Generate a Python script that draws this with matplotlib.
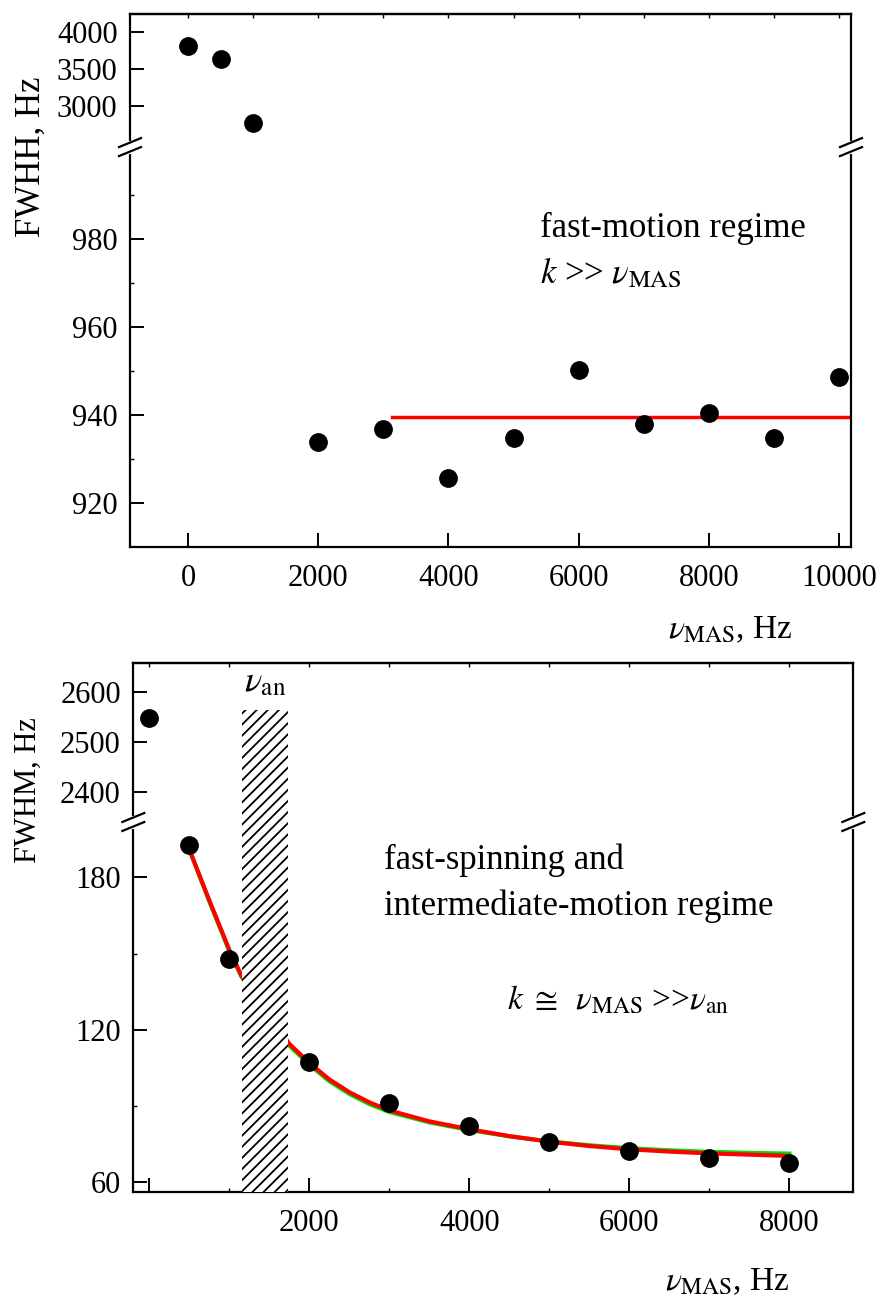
import numpy as np
import matplotlib.pyplot as plt
from matplotlib.ticker import FixedLocator

plt.rcParams['font.family'] = 'Liberation Serif'
plt.rcParams['mathtext.fontset'] = 'stix'
plt.rcParams['hatch.linewidth'] = 1.3

FIG_W, FIG_H = 882, 1308

# upper panel: FWHH vs spinning rate
mas_top = [0, 500, 1000, 2000, 3000, 4000, 5000, 6000, 7000, 8000, 9000, 10000]
fwhh_top = [3814, 3638, 2765, 933.8, 936.9, 925.7, 934.8, 950.1, 938.0, 940.5, 934.8, 948.5]
fit_top_x = [3130, 10180]
fit_top_y = [939.5, 939.5]

# lower panel: FWHM vs spinning rate
mas_bot = [0, 500, 1000, 2000, 3000, 4000, 5000, 6000, 7000, 8000]
fwhm_bot = [2548, 192.7, 147.7, 107.5, 91.4, 82.0, 75.9, 72.2, 69.6, 67.6]
fit_bot_x = [500, 750, 1000, 1150, 1750, 2000, 2250, 2500, 2750, 3000, 3500,
             4000, 4500, 5000, 5500, 6000, 6500, 7000, 7500, 8000]
fit_red_y = [191, 171, 151.5, 141.5, 114.5, 107, 100.5, 95.5, 91.5, 88.3, 84,
             80.9, 78.2, 76.0, 74.3, 73.0, 72.1, 71.4, 70.9, 70.4]
fit_green_y = [191, 170.5, 151, 141, 113.8, 106.3, 99.8, 94.8, 90.8, 87.7, 83.6,
               80.6, 78.1, 76.1, 74.6, 73.4, 72.6, 72.0, 71.6, 71.3]
an_band = [1162, 1730]
an_top = 2565


def broken_scale(lo, hi, frac):
    xp = [lo[0], lo[1], hi[0], hi[1]]
    fp = [0.0, frac, frac + 1e-6, 1.0]

    def fwd(y):
        return np.interp(y, xp, fp)

    def inv(v):
        return np.interp(v, fp, xp)
    return fwd, inv


def break_marks(ax, frac):
    pos = ax.get_position()
    wpx, hpx = pos.width * FIG_W, pos.height * FIG_H
    dx, dy, gap = 11 / wpx, 4.5 / hpx, 4.5 / hpx
    for x in (0, 1):
        ax.plot([x, x], [frac - gap, frac + gap], color='white', lw=3,
                transform=ax.transAxes, clip_on=False, zorder=5)
        for off in (-gap, gap):
            ax.plot([x - dx, x + dx], [frac + off - dy, frac + off + dy],
                    color='black', lw=1.6, transform=ax.transAxes,
                    clip_on=False, zorder=6)


def style_axes(ax, xticks, xlabels, xminor):
    for s in ax.spines.values():
        s.set_linewidth(1.6)
    ax.set_xticks(xticks)
    ax.set_xticklabels(xlabels)
    ax.xaxis.set_minor_locator(FixedLocator(xminor))
    ax.tick_params(which='major', direction='in', length=10, width=1.4,
                   labelsize=22)
    ax.tick_params(axis='x', which='major', pad=12)
    ax.tick_params(axis='y', which='major', pad=9)
    ax.tick_params(which='minor', direction='in', length=3, width=1.0)
    top = ax.secondary_xaxis('top')
    top.set_xticks(range(0, 10001, 1000))
    top.tick_params(direction='in', length=3, width=1.0, labeltop=False)
    top.spines['top'].set_linewidth(1.6)


fig = plt.figure(figsize=(FIG_W / 100, FIG_H / 100), dpi=100)

# ---- upper panel ----
ax1 = fig.add_axes([130 / FIG_W, 1 - 547 / FIG_H, 721 / FIG_W, 533 / FIG_H])
f1 = 399.7 / 532.7
ax1.set_yscale('function', functions=broken_scale((910, 1000.8), (2444, 4248), f1))
ax1.set_xlim(-891, 10184)
ax1.set_ylim(910, 4248)
ax1.plot(fit_top_x, fit_top_y, color='#ff0000', lw=2.5, zorder=2)
ax1.plot(mas_top, fwhh_top, 'o', color='black', ms=12.5, zorder=3)
ax1.set_yticks([920, 940, 960, 980, 3000, 3500, 4000])
ax1.yaxis.set_minor_locator(FixedLocator([930, 950, 970, 990]))
style_axes(ax1, [0, 2000, 4000, 6000, 8000, 10000],
           ['0', '2000', '4000', '6000', '8000', '10000'], [])
break_marks(ax1, f1)
ax1.text(0.569, 0.598, 'fast-motion regime', transform=ax1.transAxes,
         fontsize=25, va='center', ha='left')
ax1.text(0.569, 0.513, r'$k$ >> $\nu_{\mathrm{MAS}}$', transform=ax1.transAxes,
         fontsize=25, va='center', ha='left')
fig.text(31 / FIG_W, 1 - 157 / FIG_H, 'FWHH, Hz', rotation=90, fontsize=25,
         ha='center', va='center')
fig.text(730 / FIG_W, 1 - 630 / FIG_H, r'$\nu_{\mathrm{MAS}}$, Hz', fontsize=24,
         ha='center', va='center')

# ---- lower panel ----
ax2 = fig.add_axes([133.3 / FIG_W, 1 - 1192 / FIG_H, 720 / FIG_W, 529 / FIG_H])
f2 = 370 / 529
ax2.set_yscale('function', functions=broken_scale((56.2, 201.8), (2341, 2659), f2))
ax2.set_xlim(-200, 8800)
ax2.set_ylim(56.2, 2659)
ax2.bar(an_band[0], an_top - 56.2, width=an_band[1] - an_band[0], bottom=56.2,
        align='edge', facecolor='white', edgecolor='black', linewidth=0,
        hatch='///', zorder=4)
ax2.plot(fit_bot_x, fit_green_y, color='#00dd00', lw=3, zorder=2)
ax2.plot(fit_bot_x, fit_red_y, color='#ff0000', lw=3, zorder=2.5)
ax2.plot(mas_bot, fwhm_bot, 'o', color='black', ms=12.5, zorder=3)
ax2.set_yticks([60, 120, 180, 2400, 2500, 2600])
ax2.yaxis.set_minor_locator(FixedLocator([90, 150]))
style_axes(ax2, [0, 2000, 4000, 6000, 8000],
           ['', '2000', '4000', '6000', '8000'],
           [1000, 3000, 5000, 7000])
break_marks(ax2, f2)
ax2.text(0.183, 0.962, r'$\nu_{\mathrm{an}}$', transform=ax2.transAxes,
         fontsize=26, va='center', ha='center')
ax2.text(0.348, 0.628, 'fast-spinning and', transform=ax2.transAxes,
         fontsize=25, va='center', ha='left')
ax2.text(0.348, 0.541, 'intermediate-motion regime', transform=ax2.transAxes,
         fontsize=25, va='center', ha='left')
ax2.text(0.519, 0.363, r'$k\ \cong\;\;\nu_{\mathrm{MAS}}$ >>$\nu_{\mathrm{an}}$',
         transform=ax2.transAxes, fontsize=24, va='center', ha='left')
fig.text(28 / FIG_W, 1 - 790 / FIG_H, 'FWHM, Hz', rotation=90, fontsize=22,
         ha='center', va='center')
fig.text(727 / FIG_W, 1 - 1282 / FIG_H, r'$\nu_{\mathrm{MAS}}$, Hz', fontsize=24,
         ha='center', va='center')

fig.savefig('out.png', dpi=100)
